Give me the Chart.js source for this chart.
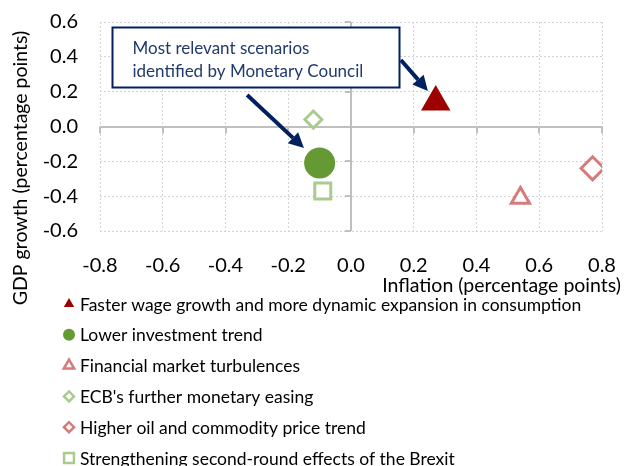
<!DOCTYPE html>
<html>
<head>
<meta charset="utf-8">
<script src="https://cdn.jsdelivr.net/npm/chart.js@4.4.1/dist/chart.umd.min.js"></script>
<style>
  html, body { margin: 0; padding: 0; background: #fff; }
  #wrap { width: 624px; height: 466px; }
</style>
</head>
<body>
<div id="wrap"><canvas id="chartCanvas" width="624" height="466"></canvas></div>
<script>
// scenario data
const scenarios = [
    "Faster wage growth and more dynamic expansion in consumption",
    "Lower investment trend",
    "Financial market turbulences",
    "ECB's further monetary easing",
    "Higher oil and commodity price trend",
    "Strengthening second-round effects of the Brexit"
];
const inflation = [0.27, -0.10, 0.54, -0.12, 0.77, -0.09];
const gdpGrowth = [0.14, -0.21, -0.41, 0.04, -0.24, -0.37];

const xTitle = "Inflation (percentage points)";
const yTitle = "GDP growth (percentage points)";
const noteLines = ["Most relevant scenarios", "identified by Monetary Council"];

// note box and arrows, in data units
const noteBox = { x1: -0.763, y1: 0.574, x2: 0.153, y2: 0.227 };
const noteArrows = [
    { from: [-0.331, 0.181], to: [-0.150, -0.124] },
    { from: [0.159, 0.382], to: [0.245, 0.204] }
];

// marker styles
const shapes = ['triangle', 'circle', 'triangle', 'rectRot', 'rectRot', 'rect'];
const lineColors = ['#9e0000', '#659934', '#d67b7b', '#a9cb8f', '#d67b7b', '#a9cb8f'];
const fillColors = ['#9e0000', '#659934', '#ffffff', '#ffffff', '#ffffff', '#ffffff'];
const radii = [17, 15.5, 10.5, 8.5, 11.5, 11.3];
const borders = [0, 0, 3, 3, 3, 3];
const legendRadii = [6, 6, 6, 5, 5, 7];
const legendBorders = [0, 0, 2.5, 2.5, 2.5, 2.5];

const NAVY = '#002060';
const FONT = 'Lato, "Open Sans", sans-serif';

function fmt(v) {
    const s = Number(v).toFixed(1);
    return s === '-0.0' ? '0.0' : s;
}

const datasets = scenarios.map((name, i) => ({
    label: name,
    data: [{ x: inflation[i], y: gdpGrowth[i] }],
    pointStyle: shapes[i],
    pointRadius: radii[i],
    pointHoverRadius: radii[i],
    pointBorderWidth: borders[i],
    pointBorderColor: lineColors[i],
    pointBackgroundColor: fillColors[i]
}));

function gridColor(ctx) { return ctx.tick && ctx.tick.value === 0 ? '#bfbfbf' : '#d4d4d4'; }
function gridWidth(ctx) { return ctx.tick && ctx.tick.value === 0 ? 2 : 1; }
function gridDash(ctx) { return ctx.tick && ctx.tick.value === 0 ? [] : [2, 2]; }

// axis ticks on the zero lines, drawn under the markers
const zeroTicks = {
    id: 'zeroTicks',
    beforeDatasetsDraw(chart) {
        const ctx = chart.ctx;
        const xs = chart.scales.x, ys = chart.scales.y;
        const x0 = xs.getPixelForValue(0), y0 = ys.getPixelForValue(0);
        ctx.save();
        ctx.strokeStyle = '#bfbfbf';
        ctx.lineWidth = 2;
        ctx.beginPath();
        xs.ticks.forEach(t => {
            const px = Math.round(xs.getPixelForValue(t.value));
            ctx.moveTo(px, y0);
            ctx.lineTo(px, y0 + 7);
        });
        ys.ticks.forEach(t => {
            const py = Math.round(ys.getPixelForValue(t.value));
            ctx.moveTo(x0 - 6, py);
            ctx.lineTo(x0, py);
        });
        ctx.stroke();
        ctx.restore();
    }
};

function arrow(ctx, x1, y1, x2, y2) {
    const ang = Math.atan2(y2 - y1, x2 - x1);
    const head = 15, half = 7.5;
    const bx = x2 - head * Math.cos(ang), by = y2 - head * Math.sin(ang);
    ctx.beginPath();
    ctx.moveTo(x1, y1);
    ctx.lineTo(bx, by);
    ctx.stroke();
    ctx.beginPath();
    ctx.moveTo(x2, y2);
    ctx.lineTo(bx + half * Math.sin(ang), by - half * Math.cos(ang));
    ctx.lineTo(bx - half * Math.sin(ang), by + half * Math.cos(ang));
    ctx.closePath();
    ctx.fill();
}

const notes = {
    id: 'notes',
    afterDatasetsDraw(chart) {
        const ctx = chart.ctx;
        const xs = chart.scales.x, ys = chart.scales.y;
        const left = Math.round(xs.getPixelForValue(noteBox.x1)) + 0.5;
        const right = Math.round(xs.getPixelForValue(noteBox.x2)) + 0.5;
        const top = Math.round(ys.getPixelForValue(noteBox.y1)) + 0.5;
        const bottom = Math.round(ys.getPixelForValue(noteBox.y2)) + 0.5;
        ctx.save();
        ctx.fillStyle = '#fff';
        ctx.fillRect(left, top, right - left, bottom - top);
        ctx.strokeStyle = NAVY;
        ctx.lineWidth = 2;
        ctx.strokeRect(left, top, right - left, bottom - top);
        ctx.fillStyle = '#1f3a6e';
        ctx.font = '17px ' + FONT;
        ctx.textBaseline = 'middle';
        noteLines.forEach((t, i) => ctx.fillText(t, left + 20, top + 21 + i * 23));

        ctx.strokeStyle = NAVY;
        ctx.fillStyle = NAVY;
        ctx.lineWidth = 4;
        noteArrows.forEach(a => {
            arrow(ctx,
                xs.getPixelForValue(a.from[0]), ys.getPixelForValue(a.from[1]),
                xs.getPixelForValue(a.to[0]), ys.getPixelForValue(a.to[1]));
        });
        ctx.restore();
    }
};

// axis titles and the vertical legend
const extras = {
    id: 'extras',
    afterDraw(chart) {
        const ctx = chart.ctx;
        ctx.save();
        ctx.fillStyle = '#000';
        ctx.font = '19.5px ' + FONT;
        ctx.textBaseline = 'middle';
        ctx.textAlign = 'right';
        ctx.fillText(xTitle, 621, 286);

        ctx.translate(21, 168);
        ctx.rotate(-Math.PI / 2);
        ctx.textAlign = 'center';
        ctx.fillText(yTitle, 0, 0);
        ctx.restore();

        ctx.save();
        ctx.font = '17.5px ' + FONT;
        ctx.textBaseline = 'middle';
        ctx.textAlign = 'left';
        scenarios.forEach((name, i) => {
            const y = 304 + i * 30.8;
            ctx.fillStyle = fillColors[i];
            ctx.strokeStyle = lineColors[i];
            ctx.lineWidth = legendBorders[i];
            Chart.helpers.drawPoint(ctx, {
                pointStyle: shapes[i],
                radius: legendRadii[i],
                borderWidth: legendBorders[i],
                rotation: 0
            }, 69, y);
            ctx.fillStyle = '#000';
            ctx.fillText(name, 80, y + 1);
        });
        ctx.restore();
    }
};

const ctx = document.getElementById('chartCanvas').getContext('2d');
const chart = new Chart(ctx, {
    type: 'scatter',
    data: { datasets: datasets },
    options: {
        responsive: false,
        animation: false,
        events: [],
        layout: { padding: { left: 0, right: 22, top: 22, bottom: 0 } },
        plugins: {
            legend: { display: false },
            tooltip: { enabled: false }
        },
        scales: {
            x: {
                min: -0.8,
                max: 0.8,
                afterFit: s => { s.height = 235; s.paddingLeft = 0; s.paddingRight = 0; },
                ticks: {
                    stepSize: 0.2,
                    padding: 23,
                    color: '#000',
                    font: { family: FONT, size: 20 },
                    callback: v => fmt(v)
                },
                grid: { color: gridColor, lineWidth: gridWidth, drawTicks: false },
                border: { display: false, dash: gridDash }
            },
            y: {
                min: -0.6,
                max: 0.6,
                afterFit: s => { s.width = 100; s.paddingTop = 0; s.paddingBottom = 0; },
                ticks: {
                    stepSize: 0.2,
                    padding: 22,
                    color: '#000',
                    font: { family: FONT, size: 20 },
                    callback: v => fmt(v)
                },
                grid: { color: gridColor, lineWidth: gridWidth, drawTicks: false },
                border: { display: false, dash: gridDash }
            }
        }
    },
    plugins: [zeroTicks, notes, extras]
});
</script>
</body>
</html>
